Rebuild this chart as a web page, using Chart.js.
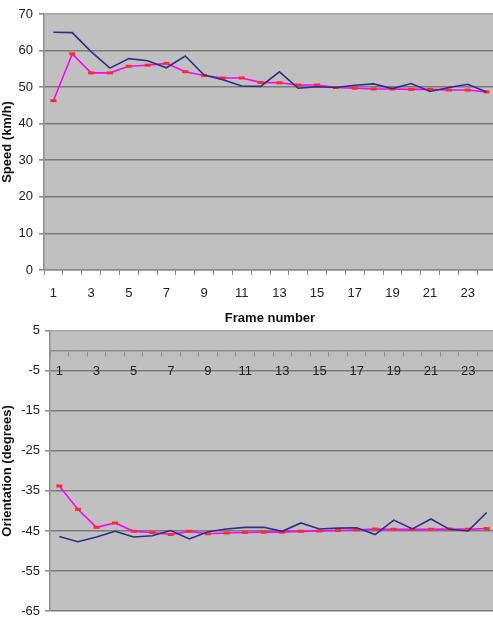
<!DOCTYPE html>
<html>
<head>
<meta charset="utf-8">
<script src="https://cdn.jsdelivr.net/npm/chart.js"></script>
<style>
  html, body { margin: 0; padding: 0; background: #fff; overflow: hidden; }
  body { width: 493px; height: 628px; position: relative; }
  .quadro { position: absolute; left: 0; width: 503px; }
  #quadroVelocidade { top: 0; height: 326px; }
  #quadroOrientacao { top: 318px; height: 340px; }
</style>
</head>
<body>
<div class="quadro" id="quadroVelocidade"><canvas id="velocidade"></canvas></div>
<div class="quadro" id="quadroOrientacao"><canvas id="orientacao"></canvas></div>
<script>
// Dados
const quadros = ['1', '2', '3', '4', '5', '6', '7', '8', '9', '10', '11', '12',
                 '13', '14', '15', '16', '17', '18', '19', '20', '21', '22', '23', '24'];

const velocidadeAzul = [65.0, 64.9, 59.7, 55.2, 57.8, 57.2, 55.3, 58.5, 53.3, 52.0, 50.3, 50.2,
                        54.2, 49.7, 50.1, 49.9, 50.5, 50.9, 49.6, 51.0, 48.8, 49.9, 50.8, 48.7];
const velocidadeRosa = [46.3, 59.1, 53.9, 53.9, 55.7, 56.0, 56.5, 54.2, 53.2, 52.5, 52.5, 51.3,
                        51.2, 50.6, 50.6, 49.9, 49.7, 49.5, 49.5, 49.4, 49.4, 49.2, 49.2, 48.7];

const orientacaoAzul = [-46.4, -47.7, -46.5, -45.1, -46.5, -46.2, -44.9, -47.0, -45.2, -44.5, -44.1, -44.1,
                        -45.1, -43.0, -44.5, -44.3, -44.2, -45.9, -42.3, -44.5, -42.0, -44.6, -45.0, -40.4];
const orientacaoRosa = [-33.8, -39.6, -44.1, -43.0, -45.1, -45.4, -45.9, -45.1, -45.7, -45.5, -45.4, -45.3,
                        -45.3, -45.1, -45.0, -44.9, -44.7, -44.5, -44.6, -44.6, -44.6, -44.5, -44.6, -44.4];

const limitesVelocidade = { min: 0, max: 70 };
const limitesOrientacao = { min: -65, max: 5 };

const fonte = "'Liberation Sans', Arial, sans-serif";
const corTexto = '#222';
const corGrade = '#7a7a7a';
const corEixo = '#8e8e8e';

// Fundo cinza da área do gráfico
const fundoCinza = {
    id: 'fundoCinza',
    beforeDraw(chart) {
        const { ctx, chartArea: a } = chart;
        ctx.save();
        ctx.fillStyle = '#c0c0c0';
        ctx.fillRect(a.left, a.top, a.width, a.height);
        ctx.restore();
    }
};

function serieAzul(dados) {
    return {
        data: dados,
        borderColor: '#2e2e88',
        borderWidth: 1.6,
        pointRadius: 0,
        tension: 0
    };
}

function serieRosa(dados) {
    return {
        data: dados,
        borderColor: '#ff00ff',
        borderWidth: 1.6,
        pointStyle: 'line',
        pointRadius: 3,
        pointBorderWidth: 3,
        pointBorderColor: '#ff2a2a',
        pointBackgroundColor: '#ff2a2a',
        tension: 0
    };
}

function corDaGrade(max) {
    return function(ctx) {
        if (ctx.tick && ctx.tick.value === max) return '#a4a4a4';
        return corGrade;
    };
}

// Gráfico Velocidade
new Chart(document.getElementById('velocidade').getContext('2d'), {
    type: 'line',
    data: {
        labels: quadros,
        datasets: [serieAzul(velocidadeAzul), serieRosa(velocidadeRosa)]
    },
    options: {
        responsive: true,
        maintainAspectRatio: false,
        animation: false,
        layout: { padding: { top: 14, right: 0, left: 0, bottom: 0 } },
        plugins: { legend: { display: false }, tooltip: { enabled: false } },
        scales: {
            x: {
                offset: true,
                grid: { offset: true, drawOnChartArea: false, tickLength: 5, tickColor: corEixo },
                border: { color: corEixo, width: 1.5 },
                ticks: {
                    autoSkip: false, maxRotation: 0, padding: 11,
                    color: corTexto, font: { family: fonte, size: 13 },
                    callback: function(v, i) { return i % 2 === 0 ? this.getLabelForValue(v) : ''; }
                },
                title: {
                    display: true, text: 'Frame number', color: '#111',
                    font: { family: fonte, size: 13, weight: 'bold' },
                    padding: { top: 0, bottom: 0 }
                },
                afterFit: s => { s.height = 56; }
            },
            y: {
                min: limitesVelocidade.min,
                max: limitesVelocidade.max,
                grid: { color: corDaGrade(limitesVelocidade.max), lineWidth: 1.6, tickLength: 5, tickColor: corEixo },
                border: { color: corEixo, width: 1.5 },
                ticks: { stepSize: 10, padding: 6, color: corTexto, font: { family: fonte, size: 13 } },
                title: {
                    display: true, text: 'Speed (km/h)', color: '#111',
                    font: { family: fonte, size: 13, weight: 'bold' },
                    padding: { top: 0, bottom: 0 }
                },
                afterFit: s => { s.width = 44; }
            }
        }
    },
    plugins: [fundoCinza]
});

// Gráfico Orientação
new Chart(document.getElementById('orientacao').getContext('2d'), {
    type: 'line',
    data: {
        labels: quadros,
        datasets: [serieAzul(orientacaoAzul), serieRosa(orientacaoRosa)]
    },
    options: {
        responsive: true,
        maintainAspectRatio: false,
        animation: false,
        layout: { padding: { top: 11, right: 0, left: 0, bottom: 0 } },
        plugins: { legend: { display: false }, tooltip: { enabled: false } },
        scales: {
            x: {
                position: { y: 0 },
                offset: true,
                grid: { offset: true, drawOnChartArea: false, tickLength: 5, tickColor: corEixo },
                border: { color: corEixo, width: 1.5 },
                ticks: {
                    autoSkip: false, maxRotation: 0, padding: 8,
                    color: corTexto, font: { family: fonte, size: 13 },
                    callback: function(v, i) { return i % 2 === 0 ? this.getLabelForValue(v) : ''; }
                }
            },
            xb: {
                type: 'category',
                position: 'bottom',
                offset: true,
                grid: { display: false },
                border: { display: false },
                ticks: { display: false },
                title: {
                    display: true, text: 'Frame number', color: '#111',
                    font: { family: fonte, size: 13, weight: 'bold' },
                    padding: { top: 0, bottom: 13 }
                },
                afterFit: s => { s.height = 47; }
            },
            y: {
                min: limitesOrientacao.min,
                max: limitesOrientacao.max,
                grid: { color: corDaGrade(limitesOrientacao.max), lineWidth: 1.6, tickLength: 5, tickColor: corEixo },
                border: { color: corEixo, width: 1.5 },
                ticks: { stepSize: 10, padding: 5, color: corTexto, font: { family: fonte, size: 13 } },
                title: {
                    display: true, text: 'Orientation (degrees)', color: '#111',
                    font: { family: fonte, size: 13, weight: 'bold' },
                    padding: { top: 0, bottom: 0 }
                },
                afterFit: s => { s.width = 50; }
            }
        }
    },
    plugins: [fundoCinza]
});
</script>
</body>
</html>
